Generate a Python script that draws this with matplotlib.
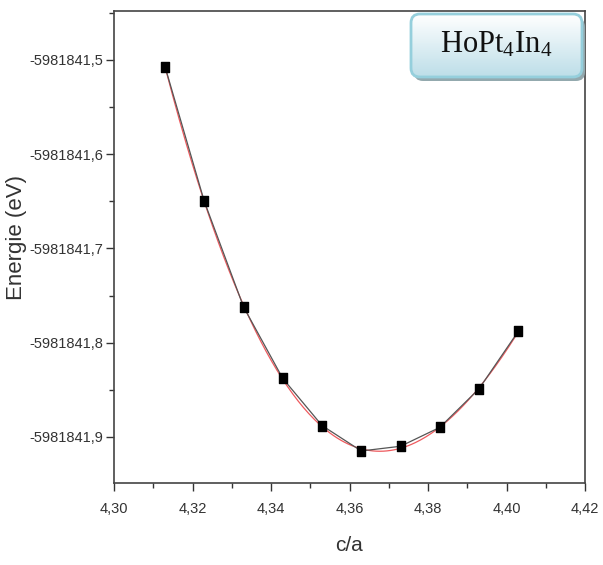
import numpy as np
import matplotlib
matplotlib.use("Agg")
import matplotlib.pyplot as plt
from matplotlib.patches import FancyBboxPatch
from matplotlib.ticker import FixedLocator, FuncFormatter, MultipleLocator
from matplotlib.path import Path

# ---- data ----
ca = [4.313, 4.323, 4.333, 4.343, 4.353, 4.363, 4.373, 4.383, 4.393, 4.403]
energy = [-5981841.507, -5981841.650, -5981841.762, -5981841.838, -5981841.888,
          -5981841.915, -5981841.910, -5981841.890, -5981841.849, -5981841.788]
xticks = [4.30, 4.32, 4.34, 4.36, 4.38, 4.40, 4.42]
yticks = [-5981841.5, -5981841.6, -5981841.7, -5981841.8, -5981841.9]
title_text = r"$\mathrm{HoPt_4In_4}$"
xlabel = "c/a"
ylabel = "Energie (eV)"

plt.rcParams['mathtext.fontset'] = 'custom'
plt.rcParams['mathtext.rm'] = 'Liberation Serif'

fig = plt.figure(figsize=(6.03, 5.65), dpi=100)
ax = fig.add_axes([114/603, 82/565, (585-114)/603, (483-11)/565])

# fit curve (red)
x = np.array(ca)
base = energy[0]
y = np.array(energy) - base
coef = np.polyfit(x - 4.36, y, 3)
xf = np.linspace(x.min(), x.max(), 200)
yf = np.polyval(coef, xf - 4.36) + base
ax.plot(xf, yf, color='#ee5a5e', lw=0.9, zorder=2)
ax.plot(ca, energy, color='#555555', lw=0.9, zorder=3)
rect = Path([(-0.75, -1), (0.75, -1), (0.75, 1), (-0.75, 1), (-0.75, -1)],
            [Path.MOVETO, Path.LINETO, Path.LINETO, Path.LINETO, Path.CLOSEPOLY])
ax.plot(ca, energy, linestyle='none', marker=rect, markersize=7,
        color='black', zorder=4)

ax.set_xlim(4.30, 4.42)
ax.set_ylim(-5981841.949, -5981841.448)
ax.xaxis.set_major_locator(FixedLocator(xticks))
ax.xaxis.set_minor_locator(MultipleLocator(0.01))
ax.yaxis.set_major_locator(FixedLocator(yticks))
ax.yaxis.set_minor_locator(MultipleLocator(0.05))
ax.xaxis.set_major_formatter(FuncFormatter(lambda v, p: f"{v:.2f}".replace('.', ',')))
ax.yaxis.set_major_formatter(FuncFormatter(lambda v, p: f"{v:.1f}".replace('.', ',')))

tick_font = ['Liberation Sans Narrow', 'Liberation Sans', 'DejaVu Sans']
for lab in ax.get_xticklabels() + ax.get_yticklabels():
    lab.set_family(tick_font)
    lab.set_fontsize(10.5)
    lab.set_color('#222222')
ax.tick_params(which='major', direction='out', length=6, width=1, colors='#333333')
ax.tick_params(which='minor', direction='out', length=3.5, width=1, colors='#333333')
ax.tick_params(axis='x', pad=8)
ax.tick_params(axis='y', pad=2)
for s in ax.spines.values():
    s.set_color('#444444')
    s.set_linewidth(1.2)

ax.set_xlabel(xlabel, fontsize=15, family=['Liberation Sans', 'DejaVu Sans'],
              color='#333333', labelpad=14)
ax.set_ylabel(ylabel, fontsize=16, family=['Liberation Sans', 'DejaVu Sans'],
              color='#333333')
ax.yaxis.set_label_coords((27 - 114) / 471, 0.52)

# label box with gradient and shadow (figure pixel coordinates)
W, H = 603, 565
bx0, by0, bw, bh = 411, 565-77, 171, 63
gax = fig.add_axes([0, 0, 1, 1], zorder=6)
gax.set_xlim(0, W)
gax.set_ylim(0, H)
gax.axis('off')
gax.patch.set_alpha(0)
grad = np.linspace(0, 1, 100)[:, None]
c_top = np.array([1.0, 1.0, 1.0])
c_bot = np.array([0.74, 0.87, 0.91])
img = c_top + (c_bot - c_top) * grad[:, :, None] * np.ones((1, 2, 1))
im = gax.imshow(img, extent=[bx0, bx0+bw, by0, by0+bh], aspect='auto',
                origin='upper', zorder=1)
clip = FancyBboxPatch((bx0, by0), bw, bh, boxstyle="round,pad=0,rounding_size=9",
                      transform=gax.transData, facecolor='none', edgecolor='none')
gax.add_patch(clip)
im.set_clip_path(clip)
shadow = FancyBboxPatch((bx0+3, by0-4), bw, bh,
                        boxstyle="round,pad=0,rounding_size=9",
                        facecolor='#93a9ae', edgecolor='none', zorder=0)
gax.add_patch(shadow)
border = FancyBboxPatch((bx0, by0), bw, bh, boxstyle="round,pad=0,rounding_size=9",
                        facecolor='none', edgecolor='#95cfdc', lw=2, zorder=2)
gax.add_patch(border)
gax.text(bx0 + bw/2, by0 + bh/2 + 1, title_text, fontsize=22, ha='center',
         va='center', color='#111111', zorder=3)

fig.savefig('out.png', dpi=100)
